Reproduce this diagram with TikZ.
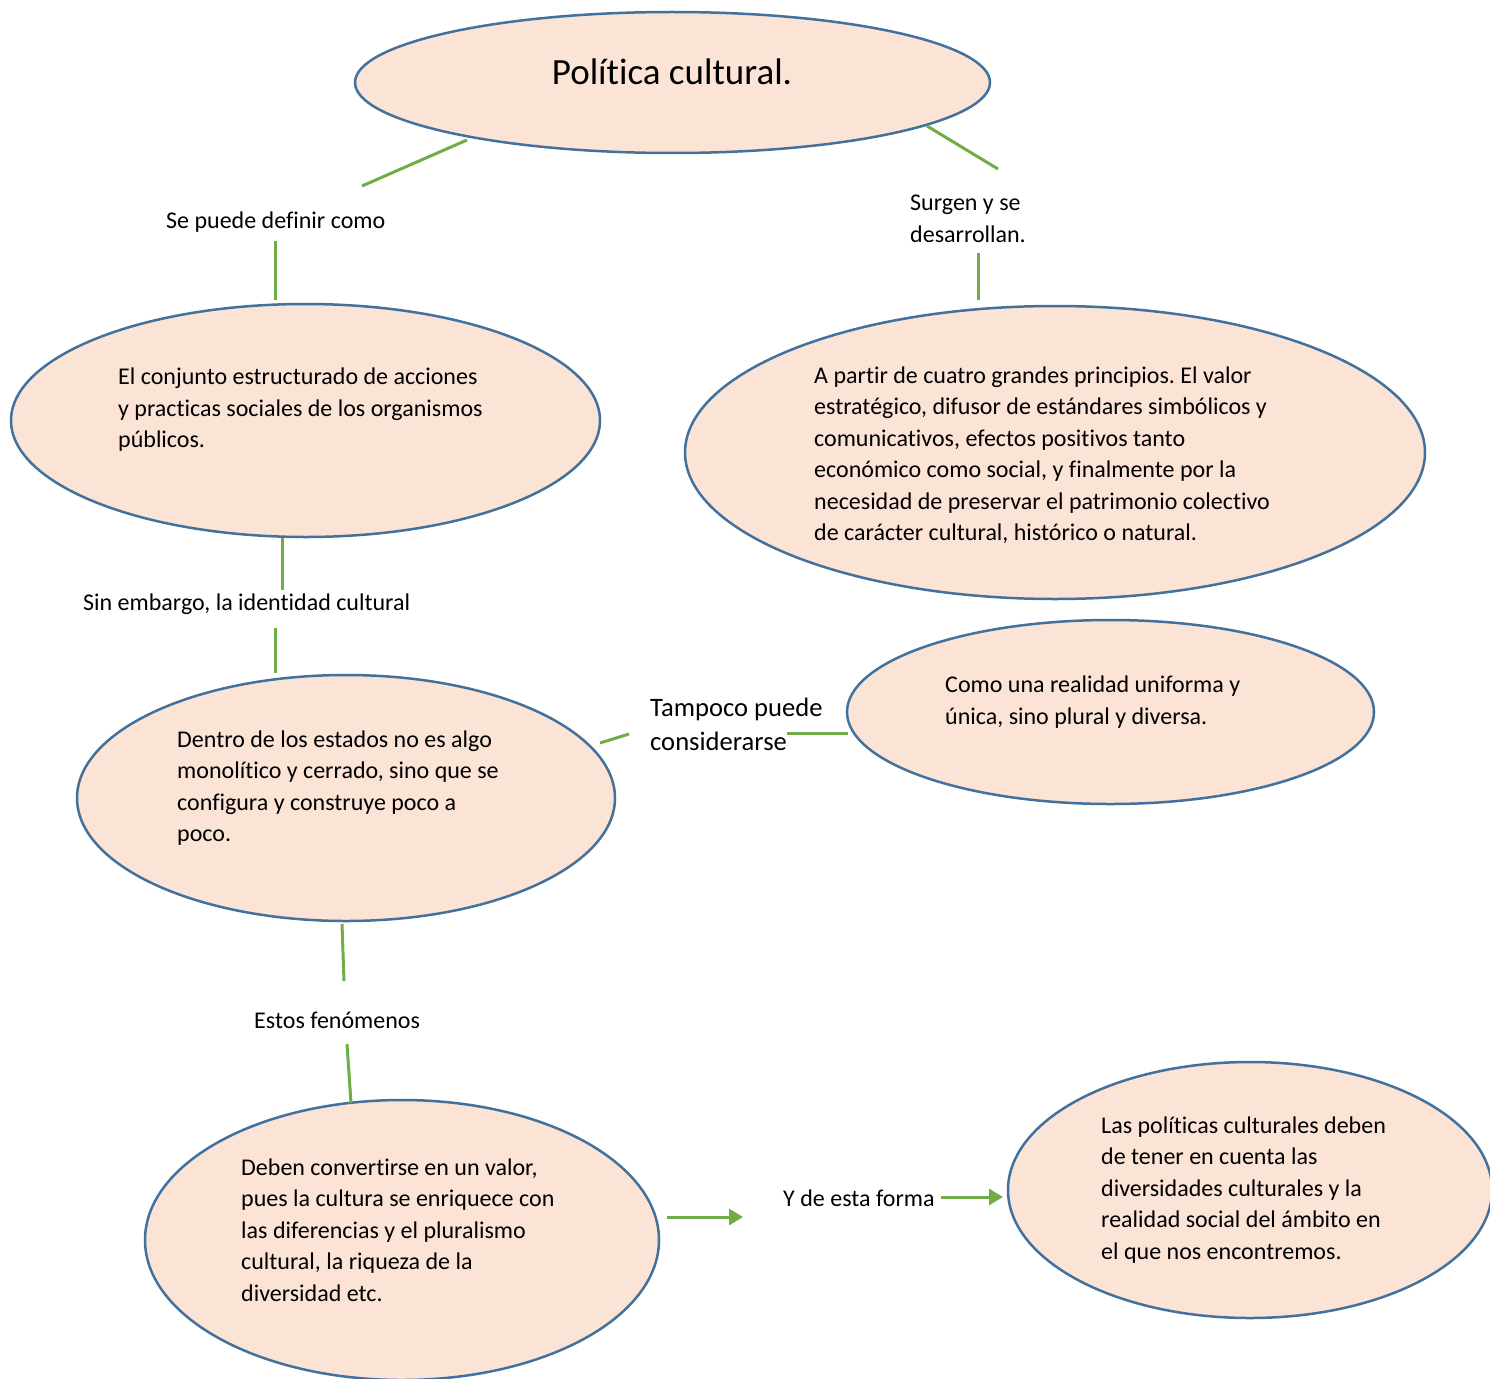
\documentclass[tikz,border=0pt]{standalone}
\usepackage{fontspec}
\setmainfont{Carlito}[Ligatures=NoCommon]
\frenchspacing
\usetikzlibrary{shapes.geometric,arrows.meta}
\definecolor{ellfill}{RGB}{251,227,214}
\definecolor{ellline}{RGB}{65,113,156}
\definecolor{conn}{RGB}{112,173,71}
\begin{document}
\begin{tikzpicture}[x=1pt,y=1pt,
  ell/.style={ellipse,draw=ellline,fill=ellfill,line width=2.5pt,inner sep=0pt,outer sep=0pt},
  body/.style={font=\fontsize{24}{31.5}\selectfont,align=left,anchor=west,inner sep=0pt},
  lbl/.style={font=\fontsize{24}{31.5}\selectfont,align=left,anchor=west,inner sep=0pt},
  big/.style={font=\fontsize{26.6}{34}\selectfont,align=left,anchor=west,inner sep=0pt},
  link/.style={draw=conn,line width=3pt},
  arr/.style={draw=conn,line width=3pt,-{Triangle[length=14pt,width=16pt]}}]
\useasboundingbox (0,0) rectangle (1490,-1378);
% ellipses
\node[ell,minimum width=635pt,minimum height=141pt] (e1) at (672.5,-82.5) {};
\node[ell,minimum width=589pt,minimum height=233pt] (e2) at (305.5,-420.5) {};
\node[ell,minimum width=740pt,minimum height=293pt] (e3) at (1055,-452.5) {};
\node[ell,minimum width=538pt,minimum height=246pt] (e4) at (346,-798) {};
\node[ell,minimum width=527pt,minimum height=184pt] (e5) at (1110.5,-712) {};
\node[ell,minimum width=514pt,minimum height=280pt] (e6) at (402,-1240) {};
\node[ell,minimum width=484pt,minimum height=256pt] (e7) at (1250,-1190) {};
% texts
\node[font=\fontsize{37}{42}\selectfont,inner sep=0pt] (t1) at (672,-72) {Política cultural.};
\node[body] (t2) at (118,-410) {El conjunto estructurado de acciones\\y practicas sociales de los organismos\\públicos.};
\node[body] (t3) at (814,-455) {A partir de cuatro grandes principios. El valor\\estratégico, difusor de estándares simbólicos y\\comunicativos, efectos positivos tanto\\económico como social, y finalmente por la\\necesidad de preservar el patrimonio colectivo\\de carácter cultural, histórico o natural.};
\node[body] (t4) at (177,-788) {Dentro de los estados no es algo\\monolítico y cerrado, sino que se\\configura y construye poco a\\poco.};
\node[body] (t5) at (945,-702) {Como una realidad uniforma y\\única, sino plural y diversa.};
\node[body] (t6) at (241,-1230) {Deben convertirse en un valor,\\pues la cultura se enriquece con\\las diferencias y el pluralismo\\cultural, la riqueza de la\\diversidad etc.};
\node[body] (t7) at (1101,-1190) {Las políticas culturales deben\\de tener en cuenta las\\diversidades culturales y la\\realidad social del ámbito en\\el que nos encontremos.};
% labels
\node[lbl] (l1) at (166,-222) {Se puede definir como};
\node[lbl] (l2) at (910,-219) {Surgen y se\\desarrollan.};
\node[lbl] (l3) at (83,-604) {Sin embargo, la identidad cultural};
\node[big] (l4) at (650,-724) {Tampoco puede\\considerarse};
\node[lbl] (l5) at (254,-1020) {Estos fenómenos};
\node[lbl] (l6) at (783,-1198) {Y de esta forma};
% connector endpoints
\coordinate (a1) at (467,-140); \coordinate (a2) at (362,-186);
\coordinate (b1) at (927,-126); \coordinate (b2) at (998,-169);
\coordinate (c1) at (275,-241); \coordinate (c2) at (275,-300);
\coordinate (d1) at (978,-253); \coordinate (d2) at (978,-300);
\coordinate (f1) at (282,-538); \coordinate (f2) at (282,-590);
\coordinate (g1) at (275,-628); \coordinate (g2) at (275,-673);
\coordinate (h1) at (600,-743); \coordinate (h2) at (629,-734);
\coordinate (i1) at (787,-733); \coordinate (i2) at (848,-733);
\coordinate (j1) at (342,-924); \coordinate (j2) at (344,-981);
\coordinate (k1) at (347,-1044); \coordinate (k2) at (351,-1103);
\coordinate (m1) at (667,-1217); \coordinate (m2) at (743,-1217);
\coordinate (n1) at (941,-1197); \coordinate (n2) at (1003,-1197);
% connectors
\draw[link] (a1) -- (a2);
\draw[link] (b1) -- (b2);
\draw[link] (c1) -- (c2);
\draw[link] (d1) -- (d2);
\draw[link] (f1) -- (f2);
\draw[link] (g1) -- (g2);
\draw[link] (h1) -- (h2);
\draw[link] (i1) -- (i2);
\draw[link] (j1) -- (j2);
\draw[link] (k1) -- (k2);
\draw[arr] (m1) -- (m2);
\draw[arr] (n1) -- (n2);
\end{tikzpicture}
\end{document}
